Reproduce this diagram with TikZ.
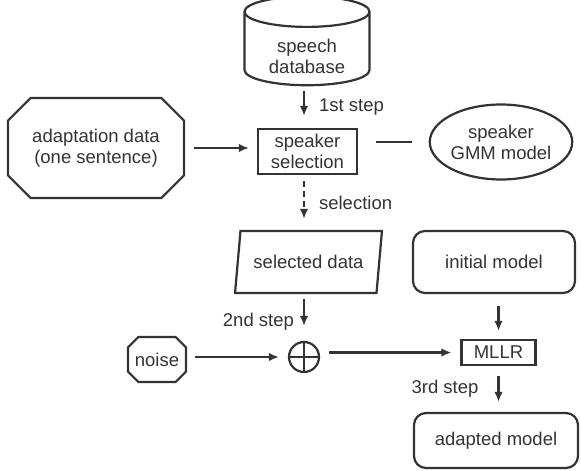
\documentclass[tikz,border=0pt]{standalone}
\usepackage{fontspec}
\setmainfont{Liberation Sans}
\usepackage{tikz}
\usetikzlibrary{shapes,arrows.meta,positioning,calc}

\begin{document}
\begin{tikzpicture}[x=1pt,y=-1pt,
    font=\fontsize{18.5}{21}\selectfont,
    shp/.style={draw=black!80, line width=2.2pt, text=black!80, align=center, inner sep=0pt},
    arr/.style={draw=black!80, line width=2.2pt, -{Latex[length=10pt,width=8.5pt]}},
    lbl/.style={text=black!80, inner sep=0pt}]
    \useasboundingbox (0,0) rectangle (581,471);
    % first row
    \node[shp, cylinder, shape border rotate=90, aspect=0.4, minimum width=125pt, minimum height=82pt] (db) at (307,49)
        {\raisebox{-10pt}[\height][\depth]{\begin{tabular}{@{}c@{}}speech\\database\end{tabular}}};
    \node[shp, rectangle, minimum width=99pt, minimum height=45pt] (sel) at (307.5,151.5) {speaker\\selection};
    \node[shp, chamfered rectangle, chamfered rectangle xsep=24pt, minimum width=176pt, minimum height=100pt] (adapt) at (96,148) {adaptation data\\(one sentence)};
    \node[shp, ellipse, minimum width=132pt, minimum height=75pt] (gmm) at (501,142) {speaker\\GMM model};
    % second row
    \node[shp, trapezium, trapezium left angle=72, trapezium right angle=108, trapezium stretches=true, minimum width=147pt, minimum height=62pt] (seldata) at (308.5,262) {selected data};
    \node[shp, rectangle, rounded corners=12pt, minimum width=162pt, minimum height=62pt] (init) at (494,262) {initial model};
    % mixing and adaptation
    \node[shp, circle, minimum size=30pt, path picture={\draw[line width=2.2pt, black!80] (path picture bounding box.north) -- (path picture bounding box.south) (path picture bounding box.west) -- (path picture bounding box.east);}] (plus) at (304,357) {};
    \node[shp, chamfered rectangle, chamfered rectangle xsep=13pt, minimum width=56pt, minimum height=45pt] (noise) at (157,359.5) {noise};
    \node[shp, rectangle, minimum width=74pt, minimum height=25pt] (mllr) at (498.5,352.5) {MLLR};
    \node[shp, rectangle, rounded corners=12pt, minimum width=164pt, minimum height=55pt] (adapted) at (496,440.5) {adapted model};

    \draw[arr, shorten <=5pt, shorten >=12pt] (db.south -| plus) -- (sel.north -| plus) node[lbl, midway, anchor=west, xshift=14pt] {1st step};
    \draw[arr, shorten <=9pt, shorten >=8pt] (adapt.east) -- (sel.west |- adapt.east);
    \draw[draw=black!80, line width=2.2pt, shorten <=18pt, shorten >=17pt] (sel.east |- gmm.west) -- (gmm.west);
    \draw[arr, dash pattern=on 6pt off 4pt, shorten <=6pt, shorten >=11pt] (sel.south -| plus) -- (seldata.north -| plus) node[lbl, midway, anchor=west, xshift=14pt] {selection};
    \draw[arr, shorten <=5pt, shorten >=15pt] (seldata.south -| plus) -- (plus.north) node[lbl, pos=0.6, anchor=east, xshift=-9pt] {2nd step};
    \draw[arr, shorten <=8pt, shorten >=9pt] (noise.east |- plus.west) -- (plus.west);
    \draw[arr, shorten <=9pt, shorten >=9pt] (plus.east |- mllr.west) -- (mllr.west);
    \draw[arr, shorten <=12pt, shorten >=8pt] (init.south -| mllr) -- (mllr.north);
    \draw[arr, shorten <=10pt, shorten >=10pt] (mllr.south) -- (adapted.north -| mllr) node[lbl, midway, anchor=east, xshift=-19pt] {3rd step};
\end{tikzpicture}
\end{document}
